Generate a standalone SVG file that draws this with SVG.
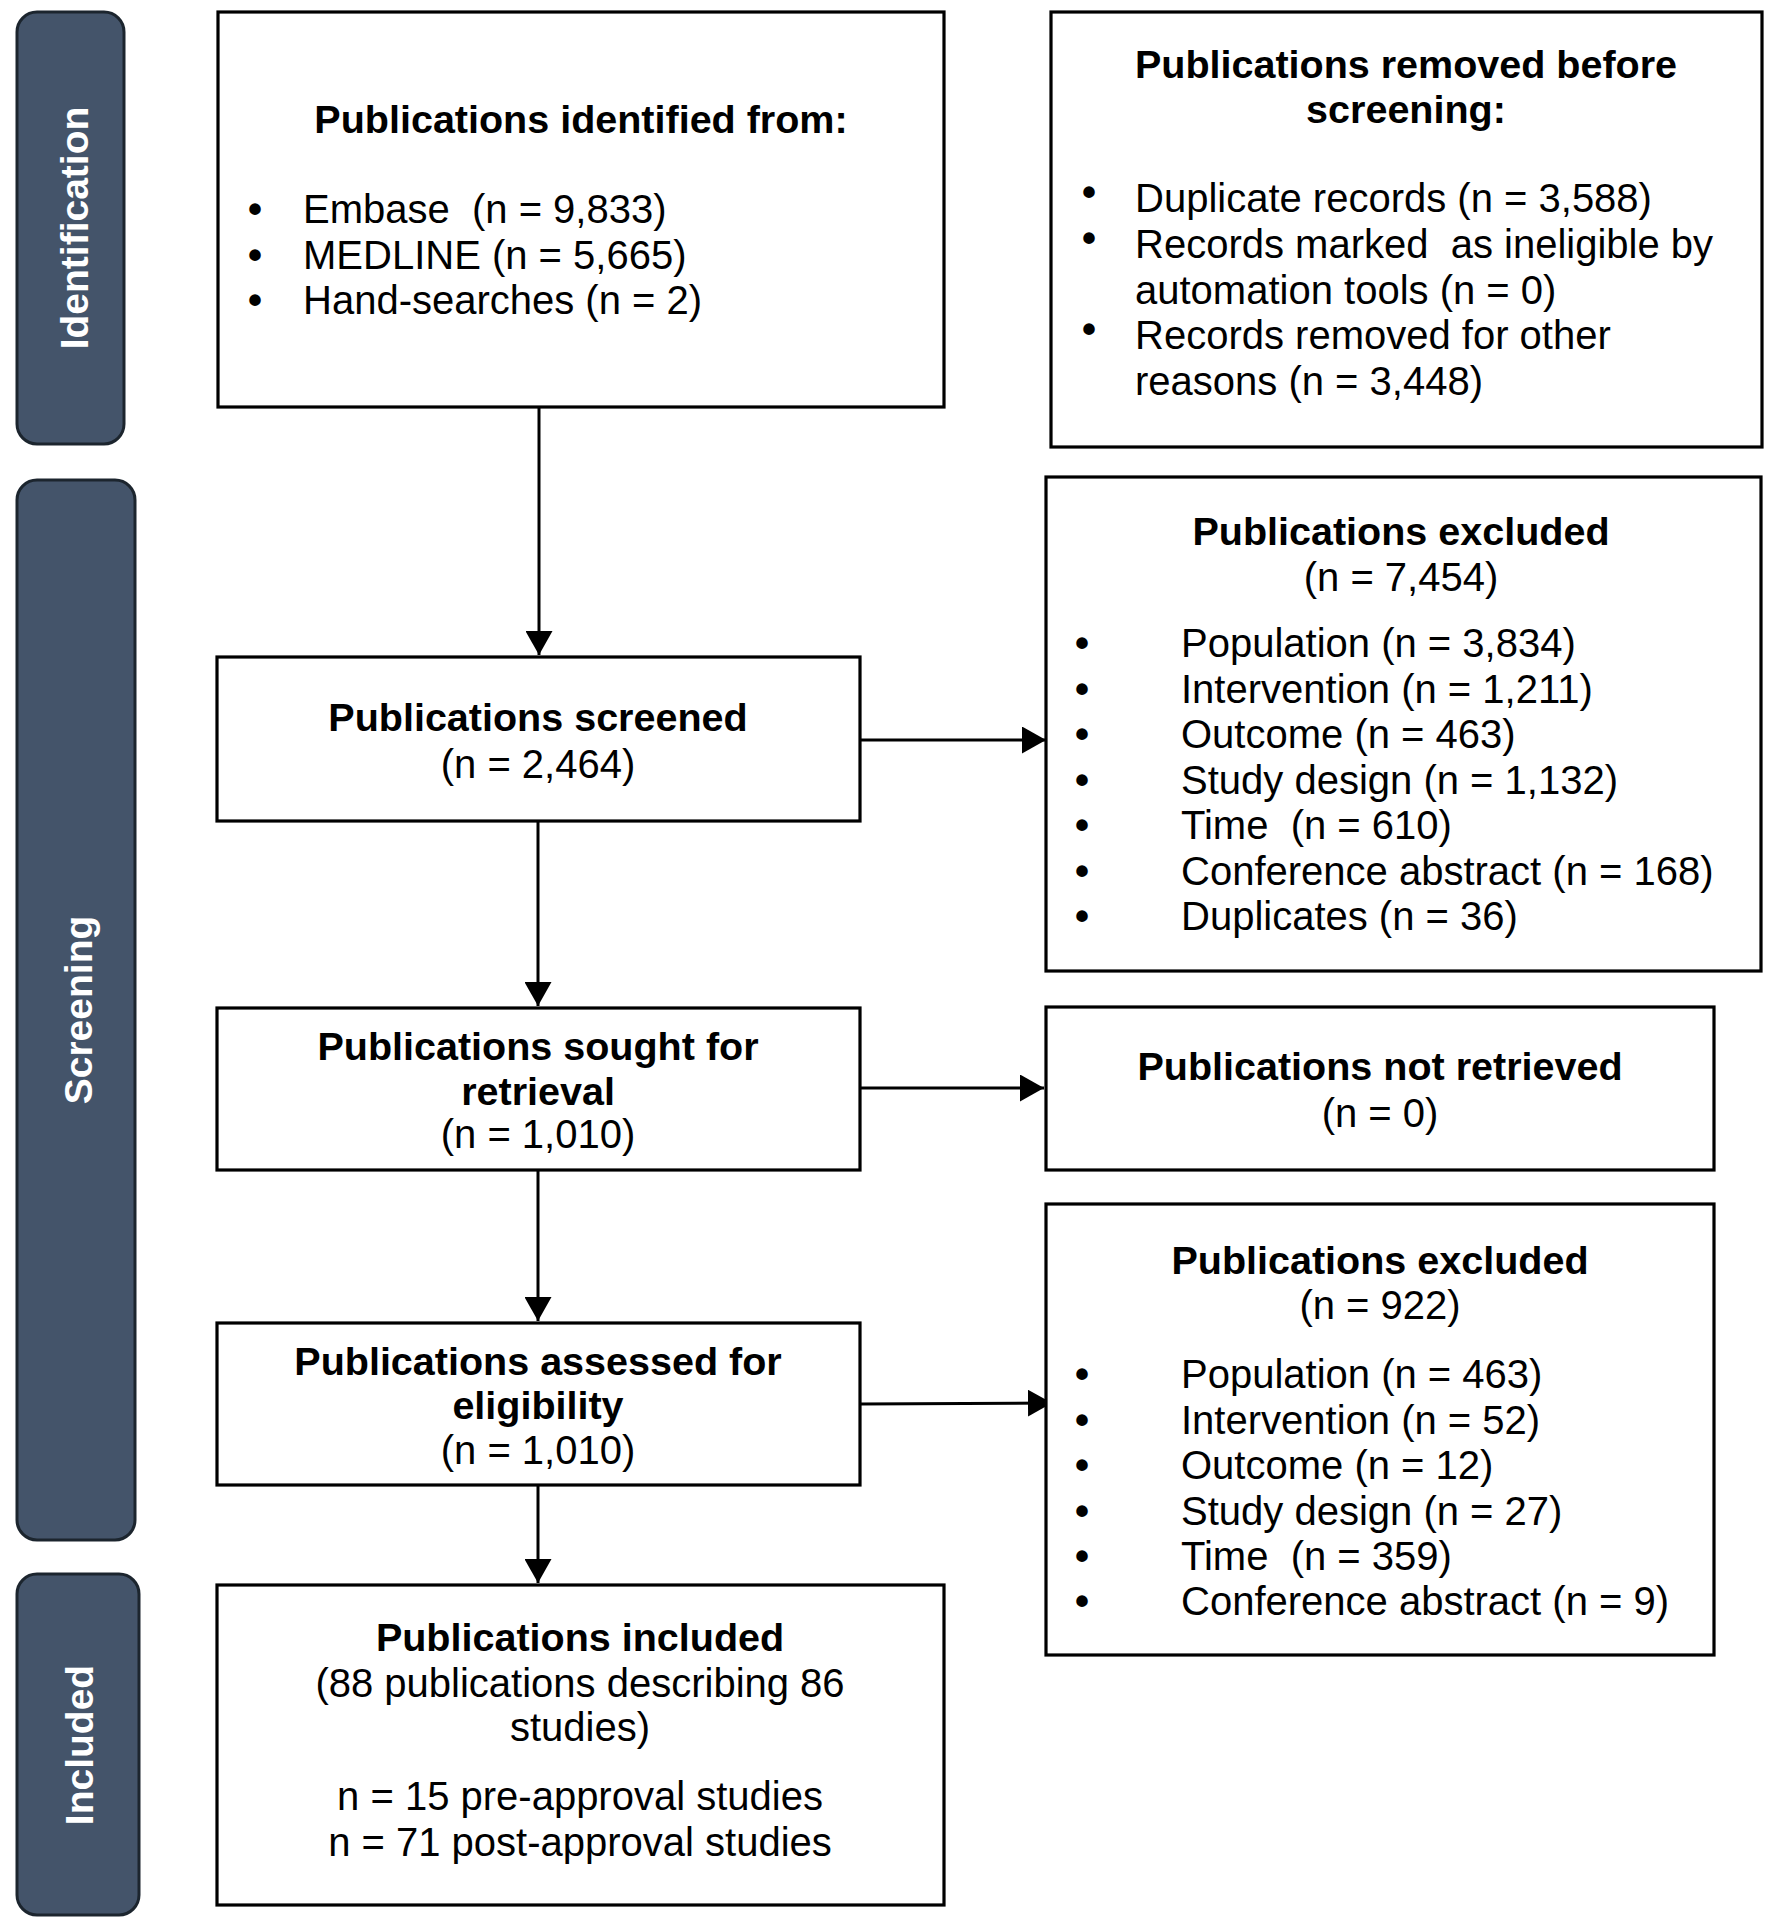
<svg xmlns="http://www.w3.org/2000/svg" width="1772" height="1932" viewBox="0 0 1772 1932">
<defs>
<style>
.box{fill:#fff;stroke:#000;stroke-width:3.2}
.pill{fill:#44546A;stroke:#1c252e;stroke-width:3}
.pt{font-family:"Liberation Sans",Arial,sans-serif;font-size:39px;font-weight:bold;fill:#fff;text-anchor:middle}
.t{font-family:"Liberation Sans",Arial,sans-serif;font-size:40px;fill:#000;white-space:pre}
.b{font-weight:bold;font-size:39.5px}
.c{text-anchor:middle}
.bu{font-size:40px;font-weight:bold}
.con{stroke:#000;stroke-width:3;fill:none}
</style>
<marker id="ah" markerWidth="9" markerHeight="9" refX="8" refY="4.5" orient="auto" markerUnits="strokeWidth">
<path d="M0,0 L8,4.5 L0,9 Z" fill="#000"/>
</marker>
</defs>
<rect width="1772" height="1932" fill="#fff"/>

<g id="phase-identification">
<rect class="pill" x="17" y="12" width="107" height="432" rx="20"/>
<text class="pt" transform="translate(88,228) rotate(-90)">Identification</text>
</g>
<g id="phase-screening">
<rect class="pill" x="17" y="480" width="118" height="1060" rx="20"/>
<text class="pt" transform="translate(92,1010) rotate(-90)">Screening</text>
</g>
<g id="phase-included">
<rect class="pill" x="17" y="1574" width="122" height="341" rx="20"/>
<text class="pt" transform="translate(93,1745) rotate(-90)">Included</text>
</g>

<g id="connectors">
<line class="con" x1="539" y1="407" x2="539" y2="655" marker-end="url(#ah)"/>
<line class="con" x1="538" y1="821" x2="538" y2="1006" marker-end="url(#ah)"/>
<line class="con" x1="538" y1="1170" x2="538" y2="1321" marker-end="url(#ah)"/>
<line class="con" x1="538" y1="1485" x2="538" y2="1583" marker-end="url(#ah)"/>
<line class="con" x1="860" y1="740" x2="1046" y2="740" marker-end="url(#ah)"/>
<line class="con" x1="860" y1="1088" x2="1044" y2="1088" marker-end="url(#ah)"/>
<line class="con" x1="860" y1="1404" x2="1052" y2="1403" marker-end="url(#ah)"/>
</g>

<g id="identified">
<rect class="box" x="218" y="12" width="726" height="395"/>
<text class="t b c" x="581" y="133">Publications identified from:</text>
<text class="t bu" x="248" y="223">•</text>
<text class="t" x="303" y="223">Embase  (n = 9,833)</text>
<text class="t bu" x="248" y="269">•</text>
<text class="t" x="303" y="269">MEDLINE (n = 5,665)</text>
<text class="t bu" x="248" y="314">•</text>
<text class="t" x="303" y="314">Hand-searches (n = 2)</text>
</g>

<g id="removed">
<rect class="box" x="1051" y="12" width="711" height="435"/>
<text class="t b c" x="1406" y="78">Publications removed before</text>
<text class="t b c" x="1406" y="123">screening:</text>
<text class="t bu" x="1082" y="206">•</text>
<text class="t" x="1135" y="212">Duplicate records (n = 3,588)</text>
<text class="t bu" x="1082" y="252">•</text>
<text class="t" x="1135" y="258">Records marked  as ineligible by</text>
<text class="t" x="1135" y="304">automation tools (n = 0)</text>
<text class="t bu" x="1082" y="343">•</text>
<text class="t" x="1135" y="349">Records removed for other</text>
<text class="t" x="1135" y="395">reasons (n = 3,448)</text>
</g>

<g id="screened">
<rect class="box" x="217" y="657" width="643" height="164"/>
<text class="t b c" x="538" y="731">Publications screened</text>
<text class="t c" x="538" y="778">(n = 2,464)</text>
</g>

<g id="excluded1">
<rect class="box" x="1046" y="477" width="715" height="494"/>
<text class="t b c" x="1401" y="545">Publications excluded</text>
<text class="t c" x="1401" y="591">(n = 7,454)</text>
<text class="t bu" x="1075" y="657">•</text><text class="t" x="1181" y="657">Population (n = 3,834)</text>
<text class="t bu" x="1075" y="703">•</text><text class="t" x="1181" y="703">Intervention (n = 1,211)</text>
<text class="t bu" x="1075" y="748">•</text><text class="t" x="1181" y="748">Outcome (n = 463)</text>
<text class="t bu" x="1075" y="794">•</text><text class="t" x="1181" y="794">Study design (n = 1,132)</text>
<text class="t bu" x="1075" y="839">•</text><text class="t" x="1181" y="839">Time  (n = 610)</text>
<text class="t bu" x="1075" y="885">•</text><text class="t" x="1181" y="885">Conference abstract (n = 168)</text>
<text class="t bu" x="1075" y="930">•</text><text class="t" x="1181" y="930">Duplicates (n = 36)</text>
</g>

<g id="sought">
<rect class="box" x="217" y="1008" width="643" height="162"/>
<text class="t b c" x="538" y="1060">Publications sought for</text>
<text class="t b c" x="538" y="1105">retrieval</text>
<text class="t c" x="538" y="1148">(n = 1,010)</text>
</g>

<g id="not-retrieved">
<rect class="box" x="1046" y="1007" width="668" height="163"/>
<text class="t b c" x="1380" y="1080">Publications not retrieved</text>
<text class="t c" x="1380" y="1127">(n = 0)</text>
</g>

<g id="assessed">
<rect class="box" x="217" y="1323" width="643" height="162"/>
<text class="t b c" x="538" y="1375">Publications assessed for</text>
<text class="t b c" x="538" y="1419">eligibility</text>
<text class="t c" x="538" y="1464">(n = 1,010)</text>
</g>

<g id="excluded2">
<rect class="box" x="1046" y="1204" width="668" height="451"/>
<text class="t b c" x="1380" y="1274">Publications excluded</text>
<text class="t c" x="1380" y="1319">(n = 922)</text>
<text class="t bu" x="1075" y="1388">•</text><text class="t" x="1181" y="1388">Population (n = 463)</text>
<text class="t bu" x="1075" y="1434">•</text><text class="t" x="1181" y="1434">Intervention (n = 52)</text>
<text class="t bu" x="1075" y="1479">•</text><text class="t" x="1181" y="1479">Outcome (n = 12)</text>
<text class="t bu" x="1075" y="1525">•</text><text class="t" x="1181" y="1525">Study design (n = 27)</text>
<text class="t bu" x="1075" y="1570">•</text><text class="t" x="1181" y="1570">Time  (n = 359)</text>
<text class="t bu" x="1075" y="1615">•</text><text class="t" x="1181" y="1615">Conference abstract (n = 9)</text>
</g>

<g id="included">
<rect class="box" x="217" y="1585" width="727" height="320"/>
<text class="t b c" x="580" y="1651">Publications included</text>
<text class="t c" x="580" y="1697">(88 publications describing 86</text>
<text class="t c" x="580" y="1741">studies)</text>
<text class="t c" x="580" y="1810">n = 15 pre-approval studies</text>
<text class="t c" x="580" y="1856">n = 71 post-approval studies</text>
</g>
</svg>
